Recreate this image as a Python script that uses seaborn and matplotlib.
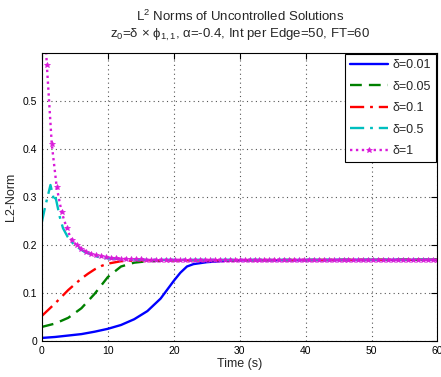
import numpy as np
import pandas as pd
import seaborn as sns
import matplotlib.pyplot as plt

# values
t_001 = [0, 2, 4, 6, 8, 10, 12, 14, 16, 18, 20, 21, 22, 23, 25, 28, 30, 60]
v_001 = [0.006, 0.008, 0.011, 0.014, 0.019, 0.025, 0.033, 0.045, 0.062, 0.088,
         0.125, 0.142, 0.155, 0.160, 0.164, 0.167, 0.168, 0.169]

t_005 = [0, 2, 4, 6, 8, 10, 12, 14, 16, 20, 60]
v_005 = [0.029, 0.036, 0.048, 0.068, 0.098, 0.133, 0.155, 0.163, 0.166, 0.168, 0.169]

t_01 = [0, 1, 2, 3, 4, 5, 6, 7, 8, 9, 10, 12, 15, 60]
v_01 = [0.052, 0.065, 0.078, 0.092, 0.106, 0.118, 0.130, 0.140, 0.149, 0.156,
        0.161, 0.166, 0.168, 0.169]

t_05 = [0, 0.5, 1.3, 1.9, 2.1, 2.7, 3.2, 3.9, 4.9, 6.4, 8.5, 10, 15, 60]
v_05 = [0.248, 0.280, 0.325, 0.290, 0.298, 0.259, 0.235, 0.217, 0.200, 0.186,
        0.175, 0.172, 0.169, 0.169]

# delta=1 is sampled every 0.75 s (one star per sample)
t_1 = np.arange(81) * 0.75
v_1 = [0.780, 0.575, 0.410, 0.320, 0.268, 0.236, 0.210, 0.200, 0.192, 0.186,
       0.181, 0.178, 0.176, 0.174, 0.173, 0.172, 0.171, 0.171, 0.170, 0.170,
       0.170, 0.169, 0.169, 0.169, 0.169, 0.169, 0.169, 0.169, 0.169, 0.169,
       0.169, 0.169, 0.169, 0.169, 0.169, 0.169, 0.169, 0.169, 0.169, 0.169,
       0.169, 0.169, 0.169, 0.169, 0.169, 0.169, 0.169, 0.169, 0.169, 0.169,
       0.169, 0.169, 0.169, 0.169, 0.169, 0.169, 0.169, 0.169, 0.169, 0.169,
       0.169, 0.169, 0.169, 0.169, 0.169, 0.169, 0.169, 0.169, 0.169, 0.169,
       0.169, 0.169, 0.169, 0.169, 0.169, 0.169, 0.169, 0.169, 0.169, 0.169,
       0.169]

labels = ['δ=0.01', 'δ=0.05', 'δ=0.1', 'δ=0.5', 'δ=1']

sns.set_style('white')
plt.rcParams['font.family'] = ['Liberation Sans', 'DejaVu Sans']
plt.rcParams['mathtext.default'] = 'regular'

fig = plt.figure(figsize=(4.41, 3.77), dpi=100)
ax = fig.add_axes([0.095, 0.096, 0.897, 0.763])

series = [
    (t_001, v_001, 'blue', '-', None),
    (t_005, v_005, 'green', (0, (5, 3)), None),
    (t_01, v_01, 'red', (0, (6, 2.5, 1.2, 2.5)), None),
    (t_05, v_05, (0, 0.75, 0.75), (0, (6, 2.5, 1.2, 2.5)), None),
    (t_1, v_1, (0.85, 0.1, 0.85), (0, (1, 1.5)), '*'),
]
for (t, v, c, ls, mk), lab in zip(series, labels):
    df = pd.DataFrame({'Time': t, 'norm': v})
    sns.lineplot(data=df, x='Time', y='norm', ax=ax, color=c, linestyle=ls,
                 linewidth=1.7, label=lab, sort=False)
    if mk is not None:
        ln = ax.get_lines()[-1]
        ln.set_marker(mk)
        ln.set_markersize(4)
        ln.set_markeredgewidth(0.5)
        ln.set_markerfacecolor(c)
        ln.set_markeredgecolor(c)

ax.set_xlim(0, 60)
ax.set_ylim(0, 0.6)
ax.set_xticks(range(0, 61, 10))
ax.set_yticks([0, 0.1, 0.2, 0.3, 0.4, 0.5])
ax.set_yticklabels(['0', '0.1', '0.2', '0.3', '0.4', '0.5'])
ax.grid(True, linestyle=(0, (1, 3)), color='#555555', linewidth=0.8)
ax.tick_params(direction='in', length=4, width=0.8, labelsize=7.5,
               top=True, right=True, colors='black')
for s in ax.spines.values():
    s.set_color('black')
    s.set_linewidth(0.8)

ax.set_xlabel('Time (s)', fontsize=9, labelpad=2)
ax.set_ylabel('L2-Norm', fontsize=9, labelpad=4)
ax.set_title('L$^2$ Norms of Uncontrolled Solutions\n'
             'z$_0$=δ × ϕ$_{1,1}$, α=-0.4, Int per Edge=50, FT=60',
             fontsize=9.5, pad=11, linespacing=1.25)

leg = ax.legend(loc='upper right', fontsize=9, handlelength=3.0,
                borderaxespad=0.1, labelspacing=0.75, fancybox=False,
                framealpha=1, edgecolor='black', handletextpad=0.4)
leg.get_frame().set_linewidth(0.8)

plt.savefig('out.png', dpi=100)
